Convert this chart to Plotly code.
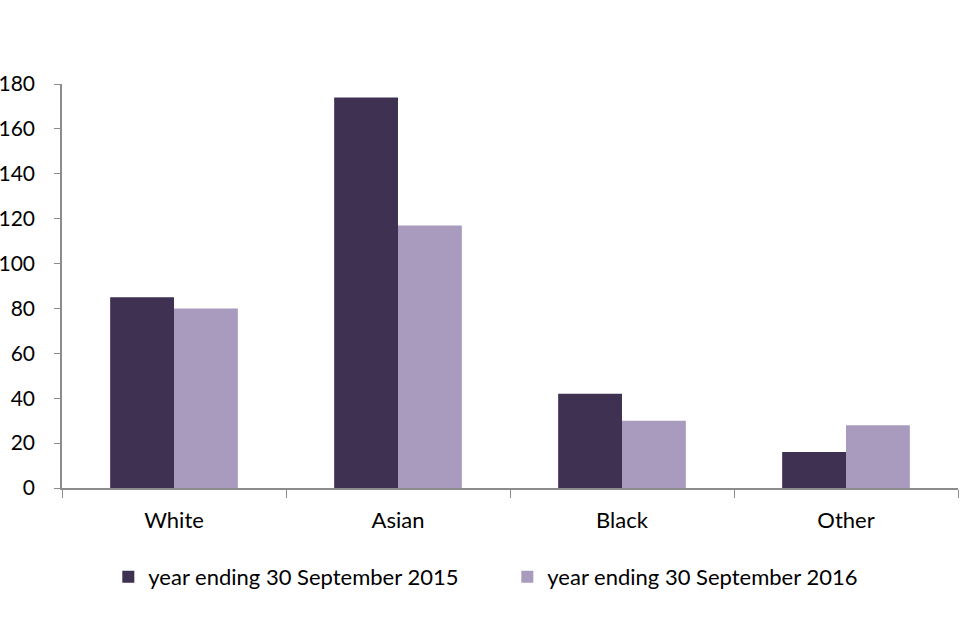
import plotly.graph_objects as go

categories = ["White", "Asian", "Black", "Other"]
series_2015 = [85, 174, 42, 16]
series_2016 = [80, 117, 30, 28]
name_2015 = "year ending 30 September 2015"
name_2016 = "year ending 30 September 2016"

font_family = "Lato, Open Sans, sans-serif"

fig = go.Figure()
fig.add_trace(go.Bar(x=categories, y=series_2015, name=name_2015,
                     marker=dict(color="#3f3151", line=dict(width=0))))
fig.add_trace(go.Bar(x=categories, y=series_2016, name=name_2016,
                     marker=dict(color="#a99bbd", line=dict(width=0))))

fig.update_layout(
    width=960, height=640,
    margin=dict(l=62, r=2, t=84, b=152, autoexpand=False),
    paper_bgcolor="white", plot_bgcolor="white",
    barmode="group", bargap=0.43, bargroupgap=0,
    font=dict(family=font_family, size=22, color="black"),
    showlegend=True,
    legend=dict(orientation="h", x=0.497, xanchor="center", y=-0.22, yanchor="middle",
                font=dict(size=22), itemsizing="constant", traceorder="normal",
                itemwidth=30, entrywidth=354),
)
fig.update_xaxes(
    automargin=False,
    showline=True, linecolor="#8c8c8c", linewidth=1.5,
    ticks="outside", tickson="boundaries", ticklen=8, tickcolor="#8c8c8c",
    ticklabelstandoff=12,
    showgrid=False, zeroline=False,
)
fig.update_yaxes(
    automargin=False,
    range=[0, 180], dtick=20,
    showline=True, linecolor="#8c8c8c", linewidth=1.5,
    ticks="outside", ticklen=6, tickcolor="#8c8c8c",
    tickfont=dict(size=21),
    ticklabelstandoff=15,
    showgrid=False, zeroline=False,
)

fig.write_html("out.html", post_script="document.body.style.margin='0';",
               config={"displayModeBar": False})
